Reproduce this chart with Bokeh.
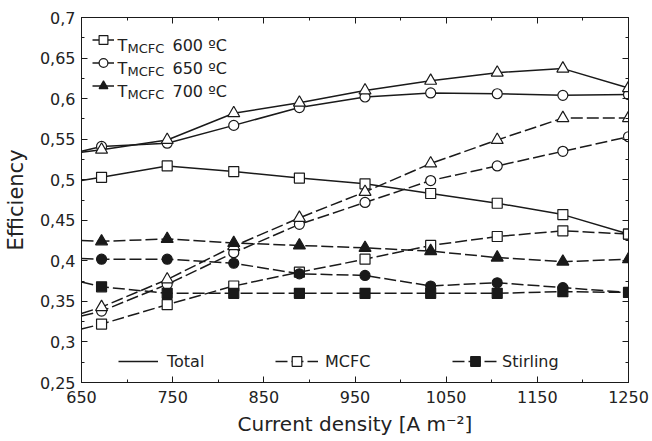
from bokeh.plotting import figure
from bokeh.models import LinearAxis, FixedTicker, Range1d, Legend, LegendItem, Label
from bokeh.embed import file_html
from bokeh.resources import INLINE

# ---------------- data ----------------
current_density = [650, 672, 744, 817, 889, 961, 1033, 1106, 1178, 1250]

total_600 = [0.499, 0.503, 0.517, 0.510, 0.502, 0.495, 0.483, 0.471, 0.457, 0.433]
total_650 = [0.535, 0.541, 0.545, 0.567, 0.589, 0.602, 0.607, 0.606, 0.604, 0.605]
total_700 = [0.534, 0.537, 0.549, 0.582, 0.595, 0.610, 0.622, 0.632, 0.637, 0.613]

mcfc_600 = [0.316, 0.322, 0.346, 0.369, 0.386, 0.402, 0.419, 0.430, 0.437, 0.433]
mcfc_650 = [0.332, 0.338, 0.371, 0.410, 0.445, 0.472, 0.499, 0.517, 0.535, 0.553]
mcfc_700 = [0.335, 0.343, 0.377, 0.418, 0.453, 0.485, 0.520, 0.549, 0.576, 0.576]

stirling_600 = [0.374, 0.368, 0.360, 0.360, 0.360, 0.360, 0.360, 0.360, 0.362, 0.361]
stirling_650 = [0.403, 0.402, 0.402, 0.397, 0.384, 0.382, 0.369, 0.373, 0.367, 0.361]
stirling_700 = [0.425, 0.424, 0.427, 0.422, 0.419, 0.416, 0.412, 0.404, 0.399, 0.402]

x_ticks = [650, 750, 850, 950, 1050, 1150, 1250]
x_minor = [700, 800, 900, 1000, 1100, 1200]
y_ticks = [0.25, 0.3, 0.35, 0.4, 0.45, 0.5, 0.55, 0.6, 0.65, 0.7]
y_tick_labels = ["0,25", "0,3", "0,35", "0,4", "0,45", "0,5", "0,55", "0,6", "0,65", "0,7"]
y_minor = [0.275, 0.325, 0.375, 0.425, 0.475, 0.525, 0.575, 0.625, 0.675]

temp_labels = ["600 ºC", "650 ºC", "700 ºC"]
component_labels = ["Total", "MCFC", "Stirling"]

# ---------------- style ----------------
FONT = "DejaVu Sans"
INK = "#1a1a1a"
TXT = "#222222"
LW = 1.5
DASH = "12 4"

p = figure(width=650, height=439,
           x_range=Range1d(650, 1250), y_range=Range1d(0.25, 0.7),
           output_backend="svg", toolbar_location=None,
           min_border_left=81, min_border_right=22,
           min_border_top=17, min_border_bottom=57)
p.xgrid.visible = False
p.ygrid.visible = False
p.outline_line_color = INK
p.background_fill_color = "white"
p.border_fill_color = "white"


def style_axis(ax, ticks, minor, show_labels):
    ax.ticker = FixedTicker(ticks=ticks, minor_ticks=minor)
    ax.major_tick_in = 6
    ax.major_tick_out = 0
    ax.minor_tick_in = 3
    ax.minor_tick_out = 0
    ax.axis_line_color = INK
    ax.major_tick_line_color = INK
    ax.minor_tick_line_color = INK
    ax.major_label_text_font = FONT
    if show_labels:
        ax.major_label_text_font_size = "16px"
        ax.major_label_text_color = TXT
    else:
        ax.major_label_text_font_size = "1px"
        ax.major_label_text_color = None
        ax.major_label_standoff = 0


xa = p.xaxis[0]
ya = p.yaxis[0]
style_axis(xa, x_ticks, x_minor, True)
style_axis(ya, y_ticks, y_minor, True)
ya.major_label_overrides = dict(zip(y_ticks, y_tick_labels))
xa.major_label_standoff = 8
ya.major_label_standoff = 6

xa.axis_label = "Current density [A m\u207B\u00B2]"
ya.axis_label = "Efficiency"
for ax in (xa, ya):
    ax.axis_label_text_font = FONT
    ax.axis_label_text_font_style = "normal"
    ax.axis_label_text_color = TXT
xa.axis_label_text_font_size = "20px"
ya.axis_label_text_font_size = "21px"
xa.axis_label_standoff = 6
ya.axis_label_standoff = 9

top_ax = LinearAxis()
style_axis(top_ax, x_ticks, x_minor, False)
p.add_layout(top_ax, "above")
right_ax = LinearAxis()
style_axis(right_ax, y_ticks, y_minor, False)
p.add_layout(right_ax, "right")

# ---------------- series ----------------
def draw(values, dash, marker, fill, size):
    ln = p.line(current_density, values, line_color=INK, line_width=LW, line_dash=dash)
    sc = p.scatter(current_density[1:], values[1:], marker=marker, size=size,
                   line_color=INK, line_width=1.2, fill_color=fill)
    return ln, sc

t600 = draw(total_600, "solid", "square", "white", 10)
t650 = draw(total_650, "solid", "circle", "white", 10)
t700 = draw(total_700, "solid", "triangle", "white", 12)
m600 = draw(mcfc_600, DASH, "square", "white", 10)
m650 = draw(mcfc_650, DASH, "circle", "white", 10)
m700 = draw(mcfc_700, DASH, "triangle", "white", 12)
s600 = draw(stirling_600, DASH, "square", INK, 10)
s650 = draw(stirling_650, DASH, "circle", INK, 10)
s700 = draw(stirling_700, DASH, "triangle", INK, 12)

# ---------------- legends ----------------
def make_legend(items, loc, gw, gh, standoff, text_color=TXT):
    lg = Legend(items=items, location=loc, orientation="vertical",
                glyph_width=gw, glyph_height=gh, label_height=gh,
                label_standoff=standoff, spacing=0, padding=0, margin=0,
                border_line_color=None, background_fill_alpha=0,
                label_text_font=FONT, label_text_font_size="16px",
                label_text_color=text_color)
    p.add_layout(lg)
    return lg

# temperature legend (top-left): line + marker; the text is drawn as labels (subscript)
make_legend([
    LegendItem(label=" ", renderers=[t600[0], t600[1]]),
    LegendItem(label=" ", renderers=[t650[0], t650[1]]),
    LegendItem(label=" ", renderers=[t700[0], s700[1]]),
], (11, 285), 22, 23, 0, text_color=None)

baselines = [337, 314, 291]
for yb, tl in zip(baselines, temp_labels):
    p.add_layout(Label(x=36, y=yb, x_units="screen", y_units="screen", text="T",
                       text_font=FONT, text_font_size="16px", text_color=TXT,
                       text_baseline="alphabetic"))
    p.add_layout(Label(x=46, y=yb - 3, x_units="screen", y_units="screen", text="MCFC",
                       text_font=FONT, text_font_size="13px", text_color=TXT,
                       text_baseline="alphabetic"))
    p.add_layout(Label(x=91, y=yb, x_units="screen", y_units="screen", text=tl,
                       text_font=FONT, text_font_size="16px", text_color=TXT,
                       text_baseline="alphabetic"))

# component legends (bottom)
make_legend([LegendItem(label=component_labels[0], renderers=[t600[0]])], (37, 9), 40, 24, 9)
make_legend([LegendItem(label=component_labels[1], renderers=[m600[0], m600[1]])], (194, 9), 43, 24, 7)
make_legend([LegendItem(label=component_labels[2], renderers=[s600[0], s600[1]])], (371, 9), 46, 24, 4)

open("out.html", "w").write(file_html(p, INLINE))
